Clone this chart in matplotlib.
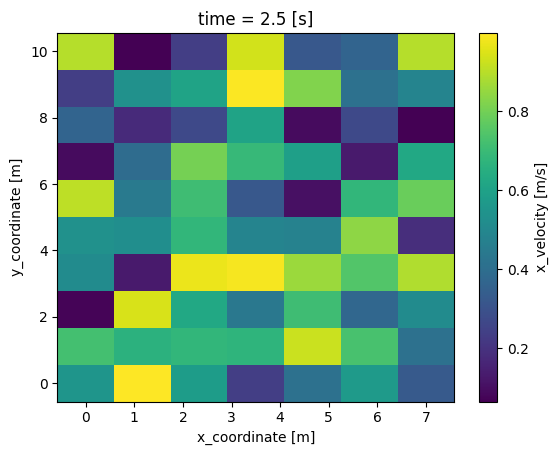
import numpy as np
import matplotlib
matplotlib.use("Agg")
import matplotlib.pyplot as plt

x_coordinate = np.linspace(0, 7, 7)
y_coordinate = np.linspace(0, 10, 10)

# rows: y ascending (y=0 first), columns: x ascending
x_velocity = np.array([
    [0.551, 0.999, 0.579, 0.233, 0.411, 0.569, 0.327],
    [0.719, 0.663, 0.681, 0.672, 0.924, 0.728, 0.411],
    [0.075, 0.943, 0.625, 0.439, 0.709, 0.373, 0.513],
    [0.513, 0.130, 0.971, 0.985, 0.859, 0.747, 0.887],
    [0.532, 0.523, 0.681, 0.485, 0.476, 0.840, 0.186],
    [0.906, 0.448, 0.709, 0.317, 0.102, 0.681, 0.784],
    [0.093, 0.392, 0.803, 0.691, 0.588, 0.130, 0.625],
    [0.364, 0.177, 0.270, 0.607, 0.093, 0.270, 0.065],
    [0.233, 0.532, 0.607, 0.995, 0.822, 0.411, 0.485],
    [0.896, 0.068, 0.233, 0.934, 0.317, 0.364, 0.896],
])

x_ticks = [0, 1, 2, 3, 4, 5, 6, 7]
y_ticks = [0, 2, 4, 6, 8, 10]
cbar_ticks = [0.2, 0.4, 0.6, 0.8]

fig = plt.figure(figsize=(5.58, 4.55), dpi=100)
ax = fig.add_axes([0.1027, 0.1171, 0.7115, 0.811])
cax = fig.add_axes([0.859, 0.1171, 0.0323, 0.811])

mesh = ax.pcolormesh(x_coordinate, y_coordinate, x_velocity, shading='nearest',
                     cmap='viridis')
ax.set_xticks(x_ticks)
ax.set_yticks(y_ticks)
ax.set_xlabel("x_coordinate [m]")
ax.set_ylabel("y_coordinate [m]")
ax.set_title("time = 2.5 [s]")

cb = fig.colorbar(mesh, cax=cax)
cb.set_ticks(cbar_ticks)
cb.set_label("x_velocity [m/s]")

fig.savefig("out.png", dpi=100)
